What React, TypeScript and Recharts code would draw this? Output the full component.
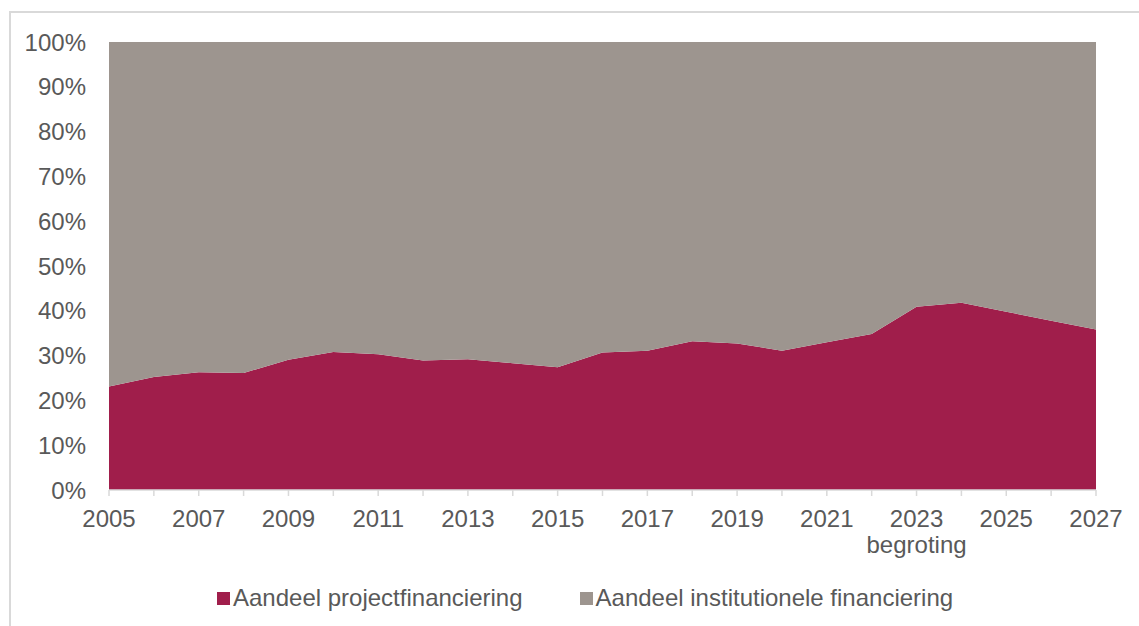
import { AreaChart, Area, XAxis, YAxis } from "recharts";

const years = [
  2005, 2006, 2007, 2008, 2009, 2010, 2011, 2012, 2013, 2014, 2015, 2016,
  2017, 2018, 2019, 2020, 2021, 2022, 2023, 2024, 2025, 2026, 2027,
];

// share of project funding (%)
const projectShare = [
  23.1, 25.2, 26.3, 26.1, 29.1, 30.8, 30.3, 28.9, 29.2, 28.3, 27.4, 30.7,
  31.1, 33.2, 32.7, 31.1, 33.0, 34.8, 40.9, 41.8, 39.8, 37.8, 35.8,
];

// share of institutional funding (%)
const institutionalShare = [
  76.9, 74.8, 73.7, 73.9, 70.9, 69.2, 69.7, 71.1, 70.8, 71.7, 72.6, 69.3,
  68.9, 66.8, 67.3, 68.9, 67.0, 65.2, 59.1, 58.2, 60.2, 62.2, 64.2,
];

const yTicks = [0, 10, 20, 30, 40, 50, 60, 70, 80, 90, 100];
const extraLabels: Record<number, string> = { 2023: "begroting" };

const PROJECT = "#A01E4B";
const INSTIT = "#9D958F";
const TEXT = "#595959";
const AXIS = "#D9D9D9";
const FONT = '"Liberation Sans", Arial, sans-serif';

const data = years.map((year, i) => ({
  year,
  project: projectShare[i],
  institutional: institutionalShare[i],
}));

function YearTick({ x, y, payload }: any) {
  const yr = payload.value as number;
  if ((yr - 2005) % 2 !== 0) return null;
  const extra = extraLabels[yr];
  return (
    <text x={x} y={y} textAnchor="middle" fill={TEXT} fontSize={24} fontFamily={FONT}>
      <tspan x={x} dy="0.71em">{yr}</tspan>
      {extra && <tspan x={x} dy={26}>{extra}</tspan>}
    </text>
  );
}

export default function App() {
  return (
    <div style={{ position: "absolute", left: 0, top: 0, width: 1139, height: 626, background: "#fff", overflow: "hidden" }}>
      <div style={{ position: "absolute", left: 9, top: 11, right: 0, bottom: 0, borderTop: `2px solid ${AXIS}`, borderLeft: `2px solid ${AXIS}` }} />
      <AreaChart width={1139} height={626} data={data}
        margin={{ top: 42, right: 43, left: 0, bottom: 76 }}
        style={{ position: "absolute", left: 0, top: 0 }}>
        <XAxis dataKey="year" type="number" domain={[2005, 2027]} ticks={years}
          interval={0} height={60} tick={<YearTick />} tickSize={6} tickMargin={14}
          axisLine={{ stroke: AXIS, strokeWidth: 1.5 }} tickLine={{ stroke: AXIS, strokeWidth: 1.5 }} />
        <YAxis width={109} domain={[0, 100]} ticks={yTicks} interval={0}
          tickFormatter={(v: number) => `${v}%`} axisLine={false} tickLine={false}
          tickMargin={17} tick={{ fill: TEXT, fontSize: 24, fontFamily: FONT }} />
        <Area type="linear" dataKey="project" stackId="a" stroke="none" fill={PROJECT}
          fillOpacity={1} isAnimationActive={false} />
        <Area type="linear" dataKey="institutional" stackId="a" stroke="none" fill={INSTIT}
          fillOpacity={1} isAnimationActive={false} />
      </AreaChart>
      <div style={{ position: "absolute", left: 217, top: 584, display: "flex", alignItems: "center", fontFamily: FONT, fontSize: 24, color: TEXT, whiteSpace: "nowrap" }}>
        <span style={{ width: 13, height: 13, background: PROJECT, marginRight: 3 }} />
        <span>Aandeel projectfinanciering</span>
        <span style={{ width: 13, height: 13, background: INSTIT, marginLeft: 57, marginRight: 3 }} />
        <span>Aandeel institutionele financiering</span>
      </div>
    </div>
  );
}
